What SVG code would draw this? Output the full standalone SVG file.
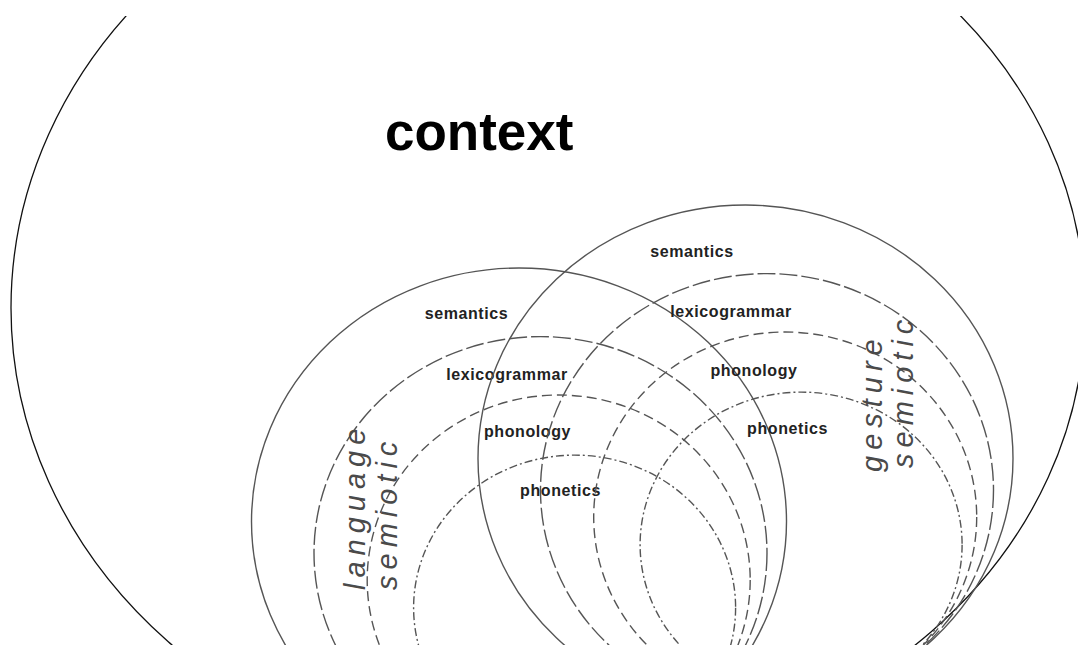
<svg xmlns="http://www.w3.org/2000/svg" width="1078" height="645" viewBox="0 0 1078 645">
<style>
.ctx{fill:none;stroke:#111;stroke-width:1.3}
.ring{fill:none;stroke:#555;stroke-width:1.4}
.r2{stroke-dasharray:18 4}
.r3{stroke-dasharray:10 5}
.r4{stroke-dasharray:8 3 2 3}
.lbl{font-family:"Liberation Sans",Arial,sans-serif;font-weight:bold;font-size:16px;fill:#222;text-anchor:middle;letter-spacing:0.6px}
.sem{font-family:"Liberation Sans",Arial,sans-serif;font-style:italic;font-size:29px;fill:#4a4a4a;letter-spacing:6px}
.title{font-family:"Liberation Sans",Arial,sans-serif;font-weight:bold;font-size:53px;fill:#000}
</style>
<defs>
<clipPath id="clipL"><rect x="0" y="16" width="548" height="640"/></clipPath>
<clipPath id="clipR"><rect x="548" y="16" width="540" height="640"/></clipPath>
</defs>
<rect width="1078" height="645" fill="#fff"/>
<g id="context">
<ellipse class="ctx" cx="548" cy="308" rx="537" ry="472" clip-path="url(#clipL)"/>
<ellipse class="ctx" cx="560" cy="310" rx="525" ry="455" clip-path="url(#clipR)"/>
<text class="title" x="385" y="150">context</text>
</g>
<g id="language-semiotic">
<ellipse class="ring" cx="519" cy="521.5" rx="267.5" ry="253.5"/>
<ellipse class="ring r2" cx="540.5" cy="553.1" rx="226.5" ry="216.5"/>
<ellipse class="ring r3" cx="558.7" cy="580" rx="191.5" ry="185"/>
<ellipse class="ring r4" cx="574.6" cy="607.7" rx="161" ry="152.6"/>
<text class="lbl" x="466.5" y="319">semantics</text>
<text class="lbl" x="507" y="380">lexicogrammar</text>
<text class="lbl" x="527.5" y="437">phonology</text>
<text class="lbl" x="560.5" y="496">phonetics</text>
<text class="sem" transform="translate(365 590) rotate(-90)">language</text>
<text class="sem" transform="translate(397 590) rotate(-90)">semiotic</text>
</g>
<g id="gesture-semiotic">
<ellipse class="ring" cx="745.5" cy="458.5" rx="267.5" ry="253.5"/>
<ellipse class="ring r2" cx="767" cy="490.1" rx="226.5" ry="216.5"/>
<ellipse class="ring r3" cx="785.2" cy="517" rx="191.5" ry="185"/>
<ellipse class="ring r4" cx="801.1" cy="544.7" rx="161" ry="152.6"/>
<text class="lbl" x="692" y="257">semantics</text>
<text class="lbl" x="731" y="317">lexicogrammar</text>
<text class="lbl" x="754" y="376">phonology</text>
<text class="lbl" x="787.5" y="434">phonetics</text>
<text class="sem" transform="translate(882 472) rotate(-90)">gesture</text>
<text class="sem" transform="translate(913 468) rotate(-90)">semiotic</text>
</g>
</svg>
